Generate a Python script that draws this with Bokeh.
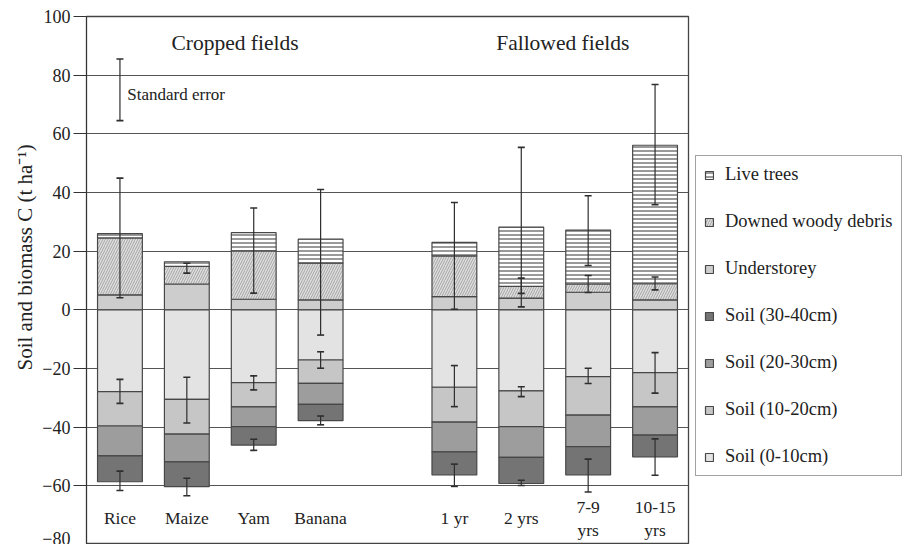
import numpy as np
from bokeh.plotting import figure
from bokeh.models import (ColumnDataSource, FactorRange, Legend, LegendItem, Whisker,
                          TeeHead, FixedTicker, Title)
from bokeh.core.properties import value
from bokeh.embed import file_html
from bokeh.resources import INLINE

# ---------------- data ----------------
categories = ["Rice", "Maize", "Yam", "Banana", " ", "1 yr", "2 yrs", "7-9 yrs", "10-15 yrs"]
category_labels = ["Rice", "Maize", "Yam", "Banana", "", "1 yr", "2 yrs", "7-9\nyrs", "10-15\nyrs"]

# above-ground pools (t C/ha), stacked upwards from 0
understorey = [5.1, 8.8, 3.6, 3.4, 0, 4.5, 4.0, 6.0, 3.4]
downed_woody_debris = [19.4, 6.0, 16.5, 12.5, 0, 13.9, 4.0, 2.8, 5.5]
live_trees = [1.5, 1.6, 6.2, 8.2, 0, 4.6, 20.2, 18.4, 47.2]

# soil pools (t C/ha), stacked downwards from 0
soil_0_10 = [27.9, 30.5, 24.8, 17.1, 0, 26.4, 27.6, 22.8, 21.4]
soil_10_20 = [11.7, 11.9, 8.3, 8.0, 0, 11.9, 12.2, 13.1, 11.7]
soil_20_30 = [10.2, 9.4, 6.7, 7.1, 0, 10.1, 10.5, 10.7, 9.6]
soil_30_40 = [8.8, 8.5, 6.3, 5.6, 0, 7.9, 8.9, 9.7, 7.4]

# standard errors (centre value, half-width)
ag_err_cat = ["Rice", "Maize", "Yam", "Banana", "1 yr", "2 yrs", "2 yrs",
              "7-9 yrs", "7-9 yrs", "10-15 yrs", "10-15 yrs"]
ag_err_mid = [24.5, 14.2, 20.2, 16.2, 18.4, 28.2, 8.2, 27.0, 8.8, 56.3, 9.0]
ag_err_se = [20.4, 1.7, 14.5, 24.8, 18.2, 27.2, 2.6, 11.9, 2.9, 20.5, 2.2]

soil_err_cat = ["Rice", "Rice", "Maize", "Maize", "Yam", "Yam", "Banana", "Banana",
                "1 yr", "1 yr", "2 yrs", "2 yrs", "7-9 yrs", "7-9 yrs",
                "10-15 yrs", "10-15 yrs"]
soil_err_mid = [-27.8, -58.3, -30.8, -60.4, -24.9, -46.0, -17.1, -37.7,
                -26.0, -56.4, -27.9, -59.0, -22.5, -56.5, -21.5, -50.2]
soil_err_se = [4.1, 3.3, 7.8, 3.0, 2.4, 1.9, 2.8, 1.5,
               7.0, 3.8, 1.7, 0.9, 2.6, 5.6, 6.9, 6.2]

# "Standard error" key
se_key_cat = ["Rice"]
se_key_mid = [75.0]
se_key_se = [10.5]

y_ticks = [-80, -60, -40, -20, 0, 20, 40, 60, 80, 100]
group_titles = ["Cropped fields", "Fallowed fields"]

# ---------------- styling ----------------
FONT = "Liberation Serif"
EDGE = "#474747"
ERR = "#2e2e2e"

p = figure(
    x_range=FactorRange(*categories), y_range=(-80, 100),
    frame_width=602, frame_height=528, output_backend="svg", toolbar_location=None,
    min_border_left=86, min_border_right=0, min_border_top=16, min_border_bottom=0,
    background_fill_color="white", border_fill_color="white",
)
p.outline_line_color = "#444444"
p.outline_line_width = 1.3
p.xaxis.visible = False
p.xgrid.visible = False
p.ygrid.ticker = FixedTicker(ticks=y_ticks)
p.ygrid.grid_line_color = "#555555"
p.ygrid.grid_line_width = 1.2

p.yaxis.ticker = FixedTicker(ticks=y_ticks)
p.yaxis.axis_line_color = "#333333"
p.yaxis.major_tick_line_color = "#333333"
p.yaxis.major_tick_out = 13
p.yaxis.major_tick_in = 0
p.yaxis.minor_tick_line_color = None
p.yaxis.major_label_standoff = 3
p.yaxis.major_label_text_font = FONT
p.yaxis.major_label_text_font_size = "18px"
p.yaxis.major_label_text_color = "#222222"

p.add_layout(Title(text="Soil and biomass C (t ha\u207b\u00b9)", align="left", offset=174,
                   text_font=FONT, text_font_size="21px", text_font_style="normal",
                   text_color="#222222", standoff=6), "left")

# ---------------- stacked bars ----------------
keep = np.array([c.strip() != "" for c in categories])
cats = [c for c, k in zip(categories, keep) if k]

def arr(v):
    return np.array(v, dtype=float)[keep]

u, d, lt = arr(understorey), arr(downed_woody_debris), arr(live_trees)
s1, s2, s3, s4 = arr(soil_0_10), arr(soil_10_20), arr(soil_20_30), arr(soil_30_40)

W = 0.67
common = dict(width=W, line_color=EDGE, line_width=1.2)

r_u = p.vbar(x=cats, bottom=0, top=u, fill_color="#cdcdcd", **common)
r_d = p.vbar(x=cats, bottom=u, top=u + d, fill_color="#dedede",
             hatch_pattern="right_diagonal_line", hatch_color="#a4a4a4",
             hatch_scale=5, hatch_weight=1.0, **common)
r_lt = p.vbar(x=cats, bottom=u + d, top=u + d + lt, fill_color="white",
              hatch_pattern="horizontal_line", hatch_color="#555555",
              hatch_scale=4, hatch_weight=1.2, **common)

r_s1 = p.vbar(x=cats, top=0, bottom=-s1, fill_color="#e3e3e3", **common)
r_s2 = p.vbar(x=cats, top=-s1, bottom=-(s1 + s2), fill_color="#c6c6c6", **common)
r_s3 = p.vbar(x=cats, top=-(s1 + s2), bottom=-(s1 + s2 + s3), fill_color="#9d9d9d", **common)
r_s4 = p.vbar(x=cats, top=-(s1 + s2 + s3), bottom=-(s1 + s2 + s3 + s4),
              fill_color="#747474", **common)

# ---------------- error bars ----------------
def add_whiskers(cat, mid, se):
    mid, se = np.array(mid), np.array(se)
    src = ColumnDataSource(dict(x=cat, lo=mid - se, hi=mid + se))
    w = Whisker(base="x", lower="lo", upper="hi", source=src, dimension="height",
                line_color=ERR, line_width=1.2, level="overlay",
                lower_head=TeeHead(size=7, line_color=ERR, line_width=1.6),
                upper_head=TeeHead(size=7, line_color=ERR, line_width=1.6))
    p.add_layout(w)

add_whiskers(ag_err_cat, ag_err_mid, ag_err_se)
add_whiskers(soil_err_cat, soil_err_mid, soil_err_se)
add_whiskers(se_key_cat, se_key_mid, se_key_se)

# ---------------- texts ----------------
p.text(x=categories, y=[-71] * len(categories), text=category_labels,
       text_font=value(FONT), text_font_size="17.5px", text_align="center",
       text_baseline="middle", text_color="#222222", text_line_height=1.15)
p.text(x=[2.22, 7.12], y=[91, 91], text=group_titles,
       text_font=value(FONT), text_font_size="21.5px", text_align="center",
       text_baseline="middle", text_color="#222222")
p.text(x=[0.61], y=[73.3], text=["Standard error"],
       text_font=value(FONT), text_font_size="17px", text_align="left",
       text_baseline="middle", text_color="#222222")

# ---------------- legend ----------------
items = [
    LegendItem(label="Live trees", renderers=[r_lt]),
    LegendItem(label="Downed woody debris", renderers=[r_d]),
    LegendItem(label="Understorey", renderers=[r_u]),
    LegendItem(label="Soil (30-40cm)", renderers=[r_s4]),
    LegendItem(label="Soil (20-30cm)", renderers=[r_s3]),
    LegendItem(label="Soil (10-20cm)", renderers=[r_s2]),
    LegendItem(label="Soil (0-10cm)", renderers=[r_s1]),
]
legend = Legend(items=items, location=(7, 68), label_text_font=FONT,
                label_text_font_size="18.5px", label_text_color="#222222",
                glyph_width=10, glyph_height=10, label_standoff=11, label_height=20,
                spacing=26, padding=8, margin=0, border_line_color="#444444",
                border_line_width=1.2)
p.add_layout(legend, "right")

open("out.html", "w").write(file_html(p, INLINE))
